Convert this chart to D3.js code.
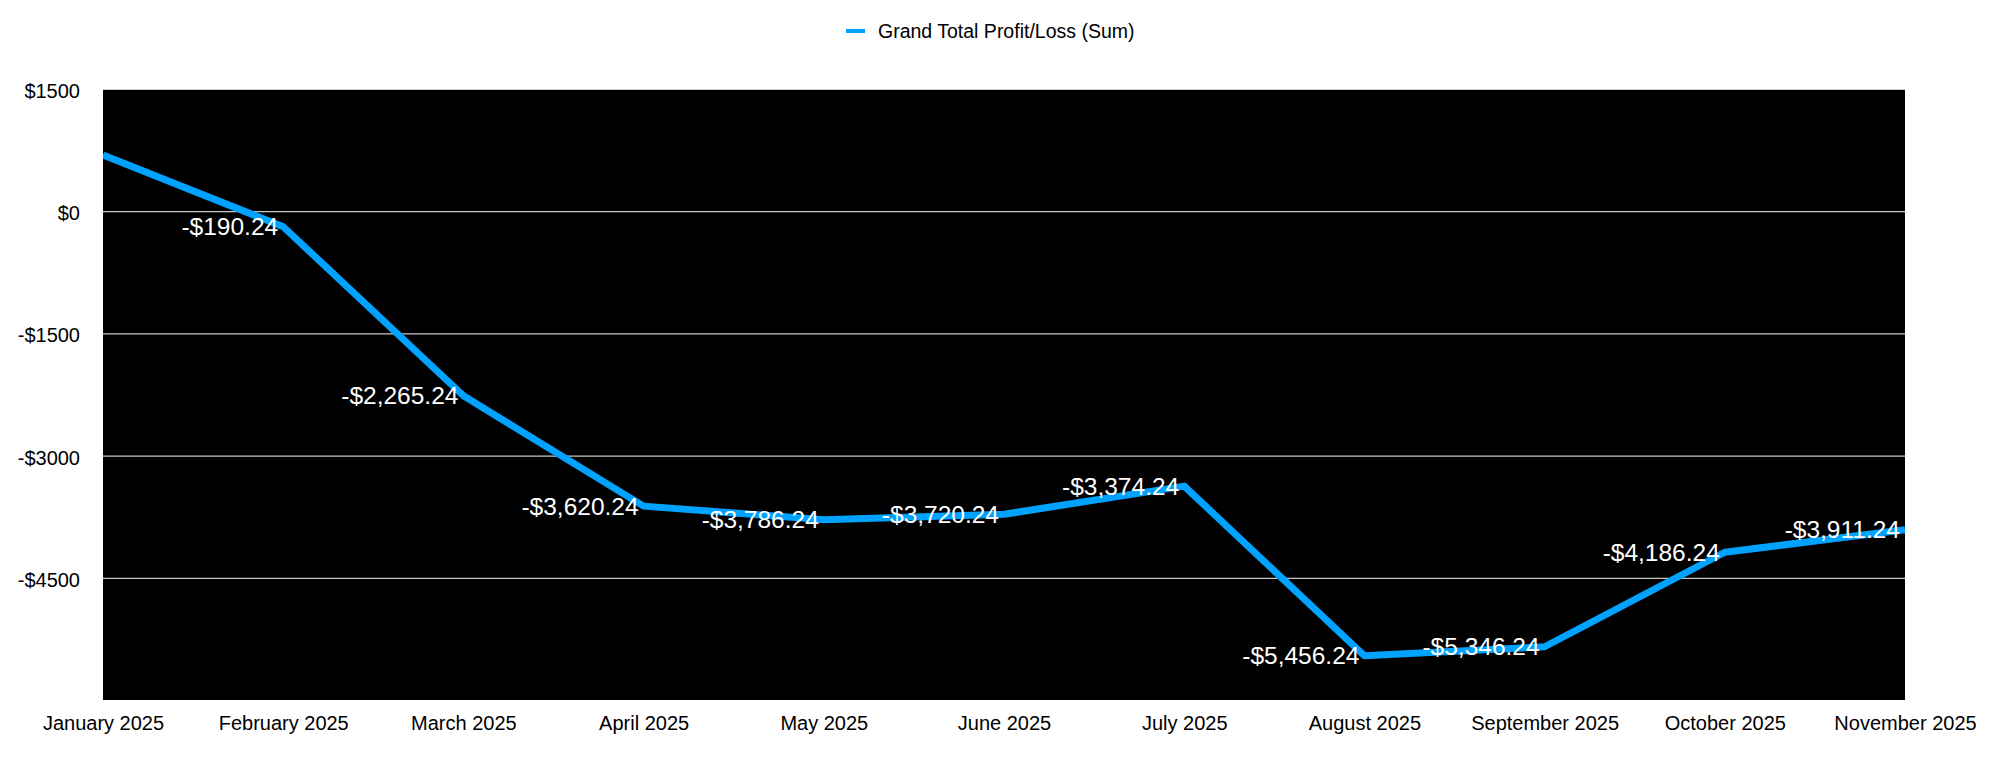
<!DOCTYPE html>
<html>
<head>
<meta charset="utf-8">
<script src="https://cdn.jsdelivr.net/npm/d3@7"></script>
<style>
  body { margin: 0; background: #fff; }
  text { font-family: "Liberation Sans", Helvetica, Arial, sans-serif; }
</style>
</head>
<body>
<div id="chart"></div>
<script>
// Chart data.
const months = ["January 2025", "February 2025", "March 2025", "April 2025", "May 2025", "June 2025",
    "July 2025", "August 2025", "September 2025", "October 2025", "November 2025"];
const profitLoss = [690, -190.24, -2265.24, -3620.24, -3786.24, -3720.24,
    -3374.24, -5456.24, -5346.24, -4186.24, -3911.24];
const yTicks = [1500, 0, -1500, -3000, -4500];
const seriesName = "Grand Total Profit/Loss (Sum)";

const W = 1994, H = 772;
const margin = { top: 89, right: 89, bottom: 72, left: 103 };
const width = W - margin.left - margin.right;
const height = H - margin.top - margin.bottom;
const lineColor = "#00a2ff";

const svg = d3.select("#chart")
    .append("svg")
    .attr("width", W)
    .attr("height", H);

const g = svg.append("g")
    .attr("transform", "translate(" + margin.left + "," + margin.top + ")");

// Scales.
const x = d3.scalePoint().domain(months).range([0, width]);
const y = d3.scaleLinear().domain([-6000, 1500]).range([height, 0]);

// Black plot background.
g.append("rect")
    .attr("width", width)
    .attr("height", height)
    .attr("fill", "#000");

g.append("clipPath").attr("id", "plot-clip")
    .append("rect").attr("width", width).attr("height", height);

// Gridlines and y labels.
const yAxis = g.append("g")
    .call(d3.axisLeft(y).tickValues(yTicks).tickSize(-width)
        .tickFormat(d => (d < 0 ? "-$" : "$") + Math.abs(d)));
yAxis.select(".domain").remove();
yAxis.selectAll(".tick line").attr("stroke", "#c8c8c8").attr("stroke-width", 1.2);
yAxis.selectAll(".tick text")
    .attr("x", -23)
    .attr("dy", "0.42em")
    .attr("fill", "#000")
    .style("font-size", "20px");

// X labels.
const xAxis = g.append("g")
    .attr("transform", "translate(0," + height + ")")
    .call(d3.axisBottom(x).tickSize(0));
xAxis.select(".domain").remove();
xAxis.selectAll(".tick text")
    .attr("y", 16)
    .attr("dy", "0.71em")
    .attr("fill", "#000")
    .style("font-size", "20px");

// The line.
const line = d3.line()
    .x((d, i) => x(months[i]))
    .y(d => y(d));

g.append("path")
    .datum(profitLoss)
    .attr("clip-path", "url(#plot-clip)")
    .attr("fill", "none")
    .attr("stroke", lineColor)
    .attr("stroke-width", 7)
    .attr("stroke-linejoin", "round")
    .attr("d", line);

// Value labels, ending just left of each point.
const fmt = d3.format(",.2f");
g.append("g")
    .attr("clip-path", "url(#plot-clip)")
    .selectAll("text")
    .data(profitLoss)
    .enter()
    .append("text")
    .attr("x", (d, i) => x(months[i]) - 5)
    .attr("y", d => y(d))
    .attr("dy", "0.35em")
    .attr("text-anchor", "end")
    .attr("fill", "#fff")
    .style("font-size", "24.5px")
    .text(d => (d < 0 ? "-$" : "$") + fmt(Math.abs(d)));

// Legend.
const legend = svg.append("g").attr("transform", "translate(846,31)");
legend.append("line")
    .attr("x1", 0).attr("x2", 19)
    .attr("stroke", lineColor)
    .attr("stroke-width", 4);
legend.append("text")
    .attr("x", 32)
    .attr("dy", "0.35em")
    .attr("fill", "#000")
    .style("font-size", "19.5px")
    .text(seriesName);
</script>
</body>
</html>
